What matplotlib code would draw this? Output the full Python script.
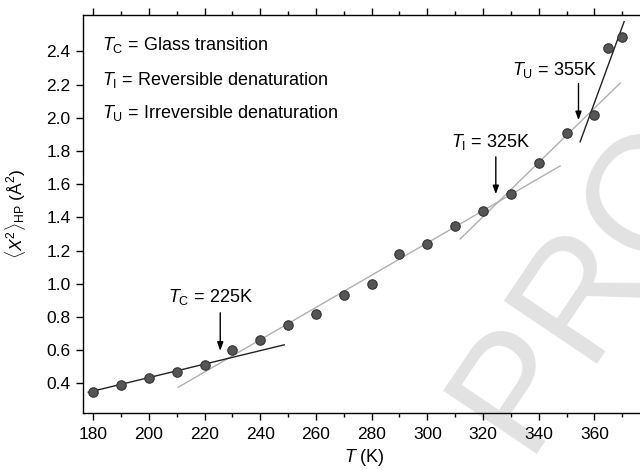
import numpy as np
import matplotlib
matplotlib.use("Agg")
import matplotlib.pyplot as plt
from matplotlib.ticker import MultipleLocator

plt.rcParams['font.family'] = ['Liberation Sans', 'DejaVu Sans']
plt.rcParams['mathtext.fontset'] = 'custom'
plt.rcParams['mathtext.rm'] = 'Liberation Sans'
plt.rcParams['mathtext.it'] = 'Liberation Sans:italic'

# Datos medidos
temps = [180, 190, 200, 210, 220, 230, 240, 250, 260, 270, 280,
         290, 300, 310, 320, 330, 340, 350, 360, 365, 370]
msd = [0.35, 0.39, 0.43, 0.47, 0.51, 0.60, 0.66, 0.75, 0.82, 0.93, 1.00,
       1.18, 1.24, 1.35, 1.44, 1.54, 1.73, 1.91, 2.02, 2.42, 2.49]

# Rectas de ajuste (extremos)
fit_glass_t = [178.2, 248.6]
fit_glass_y = [0.346, 0.632]
fit_mid_t = [210.5, 347.7]
fit_mid_y = [0.376, 1.71]
fit_rev_t = [311.8, 369.3]
fit_rev_y = [1.27, 2.21]
fit_irr_t = [354.9, 370.7]
fit_irr_y = [1.856, 2.58]

# Transiciones
trans_t = [225.6, 324.6, 354.3]
trans_lbl = [r'$T_{\rm C}$ = 225K', r'$T_{\rm I}$ = 325K', r'$T_{\rm U}$ = 355K']
arrow_top = [0.825, 1.765, 2.207]
arrow_tip = [0.596, 1.54, 1.986]
label_y = [0.918, 1.857, 2.29]
label_t = [222.0, 322.8, 345.5]

legend_lines = [r'$T_{\rm C}$ = Glass transition',
                r'$T_{\rm I}$ = Reversible denaturation',
                r'$T_{\rm U}$ = Irreversible denaturation']
legend_y = [2.44, 2.23, 2.03]

fig = plt.figure(figsize=(6.4, 4.7), dpi=100)
ax = fig.add_axes([83 / 640, 1 - 413 / 470, 1 - 83 / 640, (413 - 15) / 470])

# Marca de agua (debajo de los datos)
ax.text(1.019, 0.598, 'PROOF', transform=fig.transFigure, fontsize=118,
        color='#e2e2e2', rotation=56, ha='center', va='center',
        rotation_mode='anchor', zorder=0.5, clip_on=False)

ax.plot(fit_mid_t, fit_mid_y, color='#b0b0b0', lw=1.0, zorder=2)
ax.plot(fit_rev_t, fit_rev_y, color='#b0b0b0', lw=1.0, zorder=2)
ax.plot(fit_glass_t, fit_glass_y, color='#222222', lw=1.0, zorder=2)
ax.plot(fit_irr_t, fit_irr_y, color='#222222', lw=1.0, zorder=2)

ax.plot(temps, msd, 'o', ms=6.8, mfc='#555555', mec='#333333', mew=0.8, zorder=3)

for t, lbl, yt, ya, yl, tl in zip(trans_t, trans_lbl, arrow_top, arrow_tip, label_y, label_t):
    ax.annotate('', xy=(t, ya), xytext=(t, yt),
                arrowprops=dict(arrowstyle='-|>,head_length=0.5,head_width=0.18',
                                color='black', lw=1.0, shrinkA=0, shrinkB=0))
    ax.text(tl, yl, lbl, ha='center', va='center', fontsize=13)

for txt, y in zip(legend_lines, legend_y):
    ax.text(183.0, y, txt, ha='left', va='center', fontsize=13)

ax.set_xlim(176.3, 376.4)
ax.set_ylim(0.221, 2.62)
ax.xaxis.set_major_locator(MultipleLocator(20))
ax.xaxis.set_minor_locator(MultipleLocator(10))
ax.set_yticks(np.arange(0.4, 2.41, 0.2))
ax.set_yticklabels([f'{v:.1f}' for v in np.arange(0.4, 2.41, 0.2)])

ax.spines['right'].set_visible(False)
for s in ['left', 'bottom', 'top']:
    ax.spines[s].set_linewidth(1.0)
ax.tick_params(axis='x', which='both', direction='out', top=True, labeltop=False)
ax.tick_params(axis='x', which='major', length=5, width=1.0, pad=5)
ax.tick_params(axis='x', which='minor', length=3, width=1.0)
ax.tick_params(axis='y', which='major', direction='out', length=5, width=1.0, pad=4)
ax.tick_params(labelsize=12.5)

ax.set_xlabel(r'$T$ (K)', fontsize=13)
ax.xaxis.set_label_coords(0.505, -0.085)
ax.set_ylabel(r'$\langle X^2\rangle_{\rm HP}$ (Å$^2$)', fontsize=12.5)
ax.yaxis.set_label_coords(-0.099, 0.5)

fig.savefig('out.png', dpi=100)
